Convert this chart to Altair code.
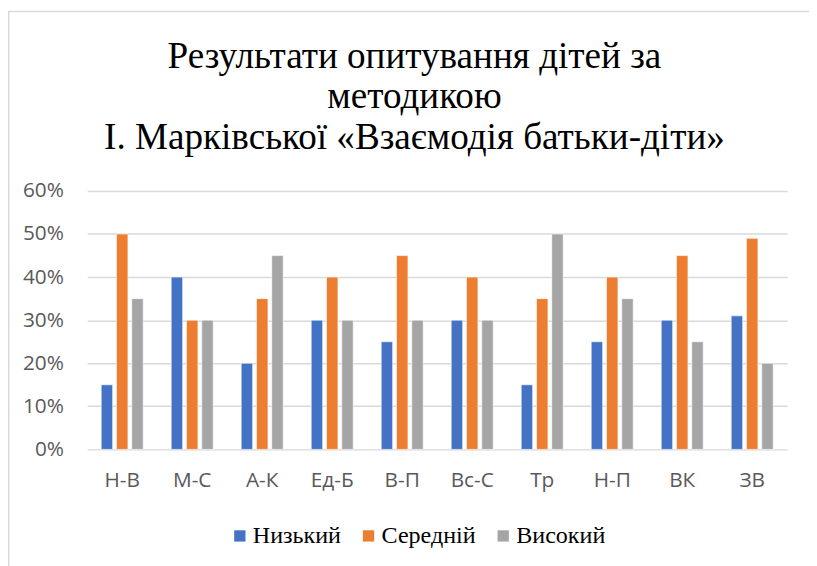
import altair as alt
import pandas as pd

categories = ["Н-В", "М-С", "А-К", "Ед-Б", "В-П", "Вс-С", "Тр", "Н-П", "ВК", "ЗВ"]
series = ["Низький", "Середній", "Високий"]
low = [15, 40, 20, 30, 25, 30, 15, 25, 30, 31]
mid = [50, 30, 35, 40, 45, 40, 35, 40, 45, 49]
high = [35, 30, 45, 30, 30, 30, 50, 35, 25, 20]
colors = ["#4472C4", "#ED7D31", "#A5A5A5"]
title_lines = ["Результати опитування дітей за", "методикою", "І. Марківської «Взаємодія батьки-діти»"]

SERIF = "Liberation Serif, Times New Roman, serif"
SANS = "Open Sans, Noto Sans, sans-serif"

rows = []
for i, c in enumerate(categories):
    for s, vals in zip(series, [low, mid, high]):
        rows.append({"cat": c, "series": s, "value": vals[i] / 100})
df = pd.DataFrame(rows)

bars = alt.Chart(df).mark_bar(stroke="white", strokeWidth=0.6).encode(
    x=alt.X("cat:N", sort=categories, title=None,
            scale=alt.Scale(paddingInner=0.4, paddingOuter=0.2),
            axis=alt.Axis(labelAngle=0, labelFont=SANS, labelFontSize=21,
                          labelColor="#595959", ticks=False, domain=False,
                          labelPadding=21)),
    xOffset=alt.XOffset("series:N", sort=series, scale=alt.Scale(paddingInner=0.25)),
    y=alt.Y("value:Q", title=None,
            scale=alt.Scale(domain=[0, 0.6]),
            axis=alt.Axis(format=".0%", values=[0, 0.1, 0.2, 0.3, 0.4, 0.5, 0.6],
                          labelFont=SANS, labelFontSize=21, labelColor="#595959",
                          ticks=False, domain=False, labelPadding=24,
                          gridColor="#D9D9D9", gridWidth=1.5)),
    color=alt.Color("series:N", sort=series,
                    scale=alt.Scale(domain=series, range=colors),
                    legend=alt.Legend(title=None, orient="none", direction="horizontal",
                                      legendX=142, legendY=336,
                                      labelFont=SERIF, labelFontSize=24.3,
                                      labelColor="#000000", symbolType="square",
                                      symbolSize=130, symbolStrokeWidth=0,
                                      columnPadding=15, labelOffset=1)),
)

frame_df = pd.DataFrame({"k": [0]})
frame_left = alt.Chart(frame_df).mark_rule(color="#D9D9D9", strokeWidth=1.5).encode(
    x=alt.value(-79.25), y=alt.value(-181.25), y2=alt.value(380))
frame_top = alt.Chart(frame_df).mark_rule(color="#D9D9D9", strokeWidth=1.5).encode(
    x=alt.value(-80), x2=alt.value(729), y=alt.value(-181.25))

chart = alt.layer(bars, frame_left, frame_top).properties(
    width=707, height=261,
    background="white",
    title=alt.TitleParams(text=title_lines, font=SERIF, fontSize=37.5,
                          fontWeight="normal", color="#000000", lineHeight=41,
                          anchor="middle", frame="group", offset=26, dx=-23, dy=173),
    autosize=alt.AutoSizeParams(type="none"),
    padding={"left": 80, "top": 182, "right": 22, "bottom": 115},
).configure_view(stroke=None)

chart.save("out.html", embed_options={"renderer": "svg", "actions": False})
